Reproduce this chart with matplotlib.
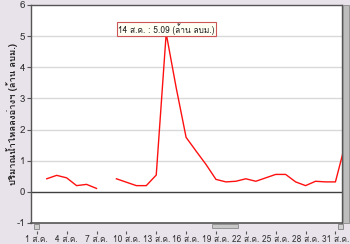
import numpy as np
import matplotlib
matplotlib.use("Agg")
import matplotlib.pyplot as plt
from matplotlib import font_manager
from matplotlib.ft2font import FT2Font
from matplotlib.patches import Rectangle

# ---- data ----
days = [1, 2, 3, 4, 5, 6, 7, 8, 9, 10, 11, 12, 13, 14, 15, 16, 17, 18, 19, 20,
        21, 22, 23, 24, 25, 26, 27, 28, 29, 30, 31, 32]
inflow = [np.nan, 0.42, 0.53, 0.45, 0.20, 0.24, 0.11, np.nan, 0.42, 0.31, 0.20, 0.20,
          0.54, 5.09, 3.35, 1.75, 1.31, 0.88, 0.40, 0.32, 0.34, 0.42, 0.34, 0.45,
          0.56, 0.56, 0.32, 0.20, 0.34, 0.32, 0.32, 1.55]
tick_days = [1, 4, 7, 10, 13, 16, 19, 22, 25, 28, 31]
tick_labels = [f"{d} ส.ค." for d in tick_days]
ylabel = "ปริมาณน้ำไหลลงอ่างฯ (ล้าน ลบม.)"
annot = "14 ส.ค. : 5.09 (ล้าน ลบม.)"

# find a font with Thai glyphs
thai_family = None
for f in font_manager.fontManager.ttflist:
    try:
        cm = FT2Font(f.fname).get_charmap()
        if 0x0E2A in cm:
            thai_family = f.name
            break
    except Exception:
        pass
fams = ([thai_family] if thai_family else []) + ["DejaVu Sans"]
plt.rcParams['font.family'] = fams

bg = "#E8E2EA"
fig = plt.figure(figsize=(3.5, 2.44), dpi=100, facecolor=bg)
ax = fig.add_axes([31/350, 21/244, 311/350, 218/244])
ax.set_facecolor("white")
ax.spines['bottom'].set_position(('outward', 6))
ax.spines['bottom'].set_visible(False)

ax.plot(days, inflow, color="#FF1010", lw=1.0, zorder=3)
ax.set_xlim(0.42, 31.66)
ax.set_ylim(-1, 6)

for y in range(1, 6):
    ax.axhline(y, color="#D9D9D9", lw=1.0, zorder=1)
ax.axhline(0, color="#404040", lw=1.0, zorder=2)

ax.set_yticks(range(-1, 7))
ax.set_yticklabels([str(v) for v in range(-1, 7)], fontsize=7, color="#333333")
ax.tick_params(axis='y', length=3, width=0.8, color="#555555", pad=1)

ax.set_xticks(tick_days)
ax.set_xticklabels(tick_labels, fontsize=6, color="#333333")
ax.tick_params(axis='x', length=2, width=0.8, color="#555555", pad=1)
ax.axhline(-1, color="#555555", lw=1.2, zorder=4, clip_on=False)
for s in ['left', 'top', 'right']:
    ax.spines[s].set_color("#555555")
    ax.spines[s].set_linewidth(1.0)

ax.set_ylabel(ylabel, fontsize=6.8, fontweight='bold', color="#222222")
ax.yaxis.set_label_coords(-0.042, 0.5)

ax.text(14, 5.23, annot, ha='center', va='center', fontsize=6, color="#222222",
        bbox=dict(boxstyle='square,pad=0.15', fc="#FFFFF4", ec="#CC5555", lw=0.8),
        zorder=6)

# scrollbar decorations
fig.patches.append(Rectangle((343/350, 21/244), 6/350, 218/244, transform=fig.transFigure,
                             fc="#BDBDBD", ec="#8A8A8A", lw=0.6))
fig.patches.append(Rectangle((212/350, (244-228)/244), 26/350, 4/244, transform=fig.transFigure,
                             fc="#C8C8C8", ec="#8A8A8A", lw=0.6))
for xp in (34, 338):
    fig.patches.append(Rectangle((xp/350, (244-229)/244), 5/350, 5/244, transform=fig.transFigure,
                                 fc="#D0D0D0", ec="#707070", lw=0.5))

fig.savefig("out.png", dpi=100, facecolor=bg)
